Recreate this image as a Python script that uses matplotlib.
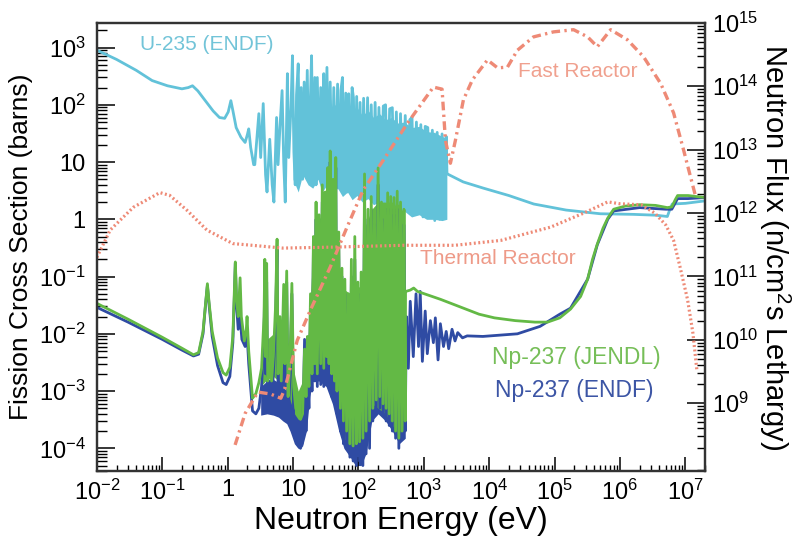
import matplotlib.pyplot as plt
import matplotlib.ticker as mticker
import numpy as np

plt.rcParams['font.family'] = ['Liberation Sans', 'DejaVu Sans']
plt.rcParams['mathtext.default'] = 'regular'

# ---- data: energy (eV), cross section (barns), flux (n/cm2 s lethargy) ----
# U-235 (ENDF) fission cross section
u235_low = [(0.01, 900), (0.02, 620), (0.04, 400), (0.07, 265), (0.12, 215), (0.2, 190),
            (0.25, 200), (0.29, 215), (0.35, 175), (0.45, 120), (0.6, 78), (0.75, 60),
            (0.9, 58), (1.02, 75), (1.12, 118), (1.2, 80), (1.35, 40), (1.6, 27),
            (1.85, 22), (2.0, 30), (2.1, 38), (2.25, 18), (2.5, 9)]
u235_res = [(2.6, 9), (3.0, 70), (3.2, 12), (3.5, 105), (3.8, 6), (4.0, 3.0), (4.4, 25),
            (4.8, 4), (5.1, 2.0), (5.6, 60), (5.9, 9), (6.3, 40), (6.8, 177), (7.2, 10),
            (7.6, 2.0), (8.2, 350), (8.6, 12), (9.3, 90), (9.8, 720), (10.3, 15), (10.8, 4),
            (11.3, 150), (12.0, 520), (12.6, 8), (13.3, 200), (14.0, 5), (14.8, 250),
            (15.6, 10), (16.5, 400), (17.5, 7), (18.5, 150), (19.2, 720), (20.2, 6),
            (21.5, 300), (22.5, 4), (23.5, 300), (25, 8), (26.5, 200), (28, 3.5), (29.5, 350),
            (31, 6), (33, 450), (35, 5), (37, 250), (39.5, 4), (42, 200), (45, 5), (48, 230),
            (51, 3.5), (54, 180), (57, 300), (60, 4), (64, 160), (68, 3), (71, 156), (75, 5),
            (80, 200), (84, 133), (88, 3), (94, 140), (100, 4), (106, 110), (113, 2.5),
            (120, 130), (128, 3), (138, 133), (147, 2.5), (157, 100), (168, 3), (180, 110),
            (193, 2.2), (206, 90), (220, 3), (240, 95), (260, 100), (280, 2), (300, 85),
            (330, 89), (355, 1.8), (380, 75), (410, 2.0), (440, 70), (480, 1.5), (520, 65),
            (560, 2.2), (610, 55), (660, 60), (710, 1.3), (770, 50), (830, 1.6), (900, 45),
            (970, 1.1), (1050, 42), (1150, 40), (1250, 1.2), (1350, 36), (1470, 0.95),
            (1600, 33), (1750, 1.0), (1900, 31), (2050, 1.2), (2200, 28), (2260, 6.2)]
u235_high = [(2290, 6.2), (4000, 4.5), (8150, 3.5), (2e4, 2.6), (4.8e4, 1.85), (1.5e5, 1.45),
             (5e5, 1.25), (1.6e6, 1.22), (3.5e6, 1.18), (5.3e6, 1.12), (5.8e6, 1.5),
             (6.3e6, 1.85), (1e7, 1.9), (2e7, 2.1)]
u235_band_E = [10, 12, 14, 17, 20, 24, 28, 33, 40, 48, 57, 68, 80, 95, 115, 140, 170, 210,
               260, 320, 400, 500, 650, 850, 1100, 1450, 1900, 2250]
u235_band_hi = [40, 90, 60, 110, 80, 130, 70, 120, 90, 110, 70, 100, 80, 90, 65, 80, 60, 70,
                55, 60, 48, 50, 40, 42, 34, 33, 28, 26]
u235_band_lo = [5, 3, 6, 4, 3.5, 5, 3, 4, 3, 3.5, 2.5, 3, 2.2, 2.6, 2, 2.3, 1.8, 2, 1.5, 1.6,
                1.3, 1.4, 1.1, 1.2, 1.0, 1.0, 0.95, 1.0]

# Np-237 (JENDL) fission cross section
jendl_low = [(0.01, 0.034), (0.03, 0.018), (0.1, 0.0087), (0.2, 0.0056), (0.3, 0.0043),
             (0.36, 0.0047), (0.42, 0.011), (0.46, 0.035), (0.49, 0.075), (0.52, 0.035),
             (0.58, 0.011), (0.7, 0.0038), (0.85, 0.0021), (0.95, 0.0019), (1.08, 0.0026),
             (1.2, 0.009), (1.27, 0.06), (1.31, 0.18), (1.37, 0.04), (1.45, 0.02),
             (1.55, 0.095), (1.62, 0.02), (1.8, 0.0075), (1.93, 0.012), (1.98, 0.02),
             (2.1, 0.005), (2.4, 0.00075), (2.7, 0.0009)]
jendl_res = [(2.7, 0.0009), (3.0, 0.0014), (3.3, 0.0025), (3.6, 0.02), (3.7, 0.2), (3.8, 0.004),
             (3.95, 0.17), (4.1, 0.0015), (4.4, 0.003), (4.7, 0.0015), (5.0, 0.004),
             (5.4, 0.03), (5.7, 0.45), (5.9, 0.002), (6.3, 0.02), (6.6, 0.0015), (7.2, 0.073),
             (7.5, 0.003), (8.0, 0.125), (8.4, 0.0008), (9.0, 0.004), (9.6, 0.076),
             (10.2, 0.0012), (11, 0.0005), (12, 0.0004), (13, 0.00032), (14, 0.0004),
             (15, 0.0054), (15.8, 0.0008), (16.6, 0.009), (17.5, 0.0012), (18.5, 0.05),
             (19.5, 0.002), (20.5, 0.5), (21.5, 0.003), (22.5, 2.0), (23.5, 0.002), (25, 1.2),
             (26.5, 0.003), (28, 4), (29.5, 0.0025), (31, 3), (32.5, 0.004), (34, 8),
             (35.5, 0.003), (37, 15.6), (39, 0.002), (41, 5), (43, 0.0015), (45, 12),
             (47, 0.001), (50, 0.6), (53, 0.0005), (56, 0.14), (59, 0.0003), (62, 0.09),
             (66, 0.0002), (70, 0.05), (74, 0.00012), (78, 0.2), (83, 0.00011), (88, 0.5),
             (93, 0.00012), (98, 0.08), (104, 0.00013), (110, 0.12), (117, 0.00015),
             (124, 6.2), (131, 0.0002), (140, 1.5), (148, 0.0003), (157, 2.5), (166, 0.0005),
             (176, 1.2), (187, 0.0007), (200, 7.9), (212, 0.0008), (225, 2), (238, 0.0006),
             (252, 1.5), (265, 0.0005), (280, 2.9), (296, 0.0004), (312, 2.5), (330, 0.0003),
             (350, 2.4), (370, 0.0002), (392, 3.1), (415, 0.00015), (440, 2.0), (465, 0.0002),
             (495, 1.5), (520, 0.0003), (525, 0.055)]
jendl_high = [(530, 0.055), (620, 0.058), (700, 0.063), (800, 0.055), (1200, 0.047),
              (1800, 0.040), (3000, 0.032), (7000, 0.022), (1.2e4, 0.019), (2.5e4, 0.017),
              (5e4, 0.016), (7.8e4, 0.016), (1.2e5, 0.019), (1.75e5, 0.027), (2.5e5, 0.045),
              (3.2e5, 0.09), (3.8e5, 0.2), (4.5e5, 0.37), (5.5e5, 0.7), (6.5e5, 1.05),
              (8e5, 1.5), (1.2e6, 1.7), (2e6, 1.8), (3.5e6, 1.75), (5.3e6, 1.6),
              (6.2e6, 1.65), (7e6, 2.2), (7.6e6, 2.6), (1.1e7, 2.6), (2e7, 2.4)]
jendl_band_E = [3.2, 4, 5, 6, 7, 8, 9, 10.5, 12, 14, 16, 18, 20, 25, 32, 40,
                50, 60, 75, 90, 110, 130, 160, 200, 260, 330, 420, 520]
jendl_band_lo = [1.2e-3, 1.6e-3, 1.8e-3, 1.5e-3, 1.2e-3, 1e-3, 7e-4, 4e-4, 3.2e-4, 3.5e-4,
                 8e-4, 2e-3, 3e-3, 3e-3, 2.5e-3, 1.3e-3, 4e-4, 1.5e-4, 1.1e-4, 1.2e-4,
                 1.8e-4, 5e-4, 6e-4, 5e-4, 4e-4, 2.5e-4, 1.8e-4, 3e-4]
jendl_band_hi = [5e-3, 8e-3, 0.01, 0.01, 0.009, 0.008, 0.005, 2e-3, 1e-3, 1.5e-3, 4e-3,
                 0.02, 0.3, 1.0, 1.5, 1.2, 0.1, 0.06, 0.05, 0.06, 0.07, 0.8, 1.5, 2.0,
                 2.0, 2.0, 1.8, 1.5]

# Np-237 (ENDF) fission cross section
endf_low = [(0.01, 0.029), (0.03, 0.016), (0.1, 0.008), (0.2, 0.0052), (0.3, 0.0041),
            (0.36, 0.0044), (0.42, 0.01), (0.46, 0.033), (0.49, 0.07), (0.52, 0.032),
            (0.58, 0.009), (0.7, 0.0028), (0.85, 0.0014), (0.95, 0.0013), (1.08, 0.0018),
            (1.2, 0.007), (1.27, 0.05), (1.31, 0.17), (1.37, 0.03), (1.45, 0.012),
            (1.55, 0.02), (1.65, 0.008), (1.85, 0.006), (1.98, 0.01), (2.1, 0.003),
            (2.4, 0.00045), (2.7, 0.0004)]
endf_res = [(2.7, 0.0004), (3.0, 0.0005), (3.3, 0.0012), (3.6, 0.01), (3.7, 0.1), (3.8, 0.002),
            (3.95, 0.08), (4.1, 0.0007), (4.4, 0.0015), (4.7, 0.0006), (5.0, 0.002),
            (5.4, 0.015), (5.7, 0.3), (5.9, 0.001), (6.3, 0.01), (6.6, 0.0005), (7.2, 0.04),
            (7.5, 0.0012), (8.0, 0.08), (8.4, 0.0003), (9.0, 0.002), (9.6, 0.05),
            (10.2, 0.0004), (11, 0.00015), (12, 0.00011), (13, 0.0001), (14, 0.00013),
            (15, 0.008), (15.8, 0.0002), (16.6, 0.005), (17.5, 0.0005), (18.5, 0.03),
            (19.5, 0.001), (20.5, 0.3), (21.5, 0.0015), (22.5, 1.0), (23.5, 0.0012),
            (25, 0.8), (26.5, 0.0013), (28, 2), (29.5, 0.0012), (31, 2), (32.5, 0.0015),
            (34, 5), (35.5, 0.0012), (37, 10), (39, 0.0008), (41, 3), (43, 0.0006), (45, 8),
            (47, 0.0004), (50, 0.3), (53, 0.0002), (56, 0.1), (59, 0.00012), (62, 0.05),
            (66, 0.0001), (70, 0.03), (74, 0.00007), (78, 0.1), (83, 0.00006), (88, 0.2),
            (93, 0.00005), (98, 0.05), (104, 0.00006), (110, 0.05), (117, 0.00005), (124, 3),
            (131, 0.00008), (140, 1), (148, 0.0001), (157, 1.5), (166, 0.0003), (176, 0.8),
            (187, 0.0004), (200, 4), (212, 0.0005), (225, 1), (238, 0.0004), (252, 1),
            (265, 0.0003), (280, 1.5), (296, 0.00025), (312, 1.5), (330, 0.0002), (350, 1.2),
            (370, 0.00015), (392, 1.5), (415, 0.0001), (440, 1), (465, 0.00015), (495, 0.8),
            (520, 0.0002), (540, 0.02)]
endf_high = [(540, 0.02), (580, 0.0025), (620, 0.037), (690, 0.004), (760, 0.05), (830, 0.006),
             (880, 0.055), (950, 0.0033), (1050, 0.025), (1130, 0.0045), (1260, 0.017),
             (1400, 0.007), (1500, 0.019), (1650, 0.0035), (1790, 0.015), (2000, 0.006),
             (2200, 0.011), (2400, 0.0055), (2700, 0.012), (3000, 0.0075), (3300, 0.0105),
             (3900, 0.0085), (4600, 0.0092), (8000, 0.009), (2.7e4, 0.010), (6e4, 0.0135),
             (1.2e5, 0.022), (1.75e5, 0.028), (3.2e5, 0.09), (4.5e5, 0.36), (6.5e5, 1.0),
             (8e5, 1.4), (2e6, 1.6), (5e6, 1.5), (6.2e6, 1.5), (7.6e6, 2.3), (1.1e7, 2.3),
             (2e7, 2.4)]
endf_band_E = [3.2, 4, 5, 6, 7, 8, 9, 10.5, 12, 14, 16, 18, 20, 25, 32, 40,
               50, 60, 75, 90, 110, 130, 160, 200, 260, 330, 420, 520]
endf_band_lo = [3.8e-4, 4e-4, 3.8e-4, 3.5e-4, 3e-4, 2.7e-4, 2e-4, 1.2e-4, 1e-4, 1.1e-4, 2e-4,
                8e-4, 1.5e-3, 1.5e-3, 1.2e-3, 6e-4, 2e-4, 1e-4, 7e-5, 5e-5, 5e-5, 8e-5, 3e-4,
                4e-4, 3e-4, 2e-4, 1.2e-4, 1.5e-4]
endf_band_hi = [1.2e-3, 1.5e-3, 1.6e-3, 1.4e-3, 1.2e-3, 1e-3, 8e-4, 5e-4, 4e-4, 4e-4, 1e-3,
                3e-3, 5e-3, 5e-3, 4e-3, 2e-3, 1e-3, 5e-4, 3e-4, 3e-4, 4e-4, 1e-3, 2e-3, 2e-3,
                1e-3, 1e-3, 1e-3, 1e-3]

# reactor neutron spectra (right axis)
fast_E = [1.3, 1.85, 2.9, 4.5, 6.5, 7.5, 11.6, 18.3, 37, 67, 118, 240, 560, 1400, 1900,
          2140, 2550, 3040, 4030, 5530, 9400, 1.34e4, 1.9e4, 2.7e4, 4.75e4, 9.6e4, 1.95e5,
          3.2e5, 4.5e5, 7.2e5, 1.3e6, 2.3e6, 4.2e6, 6.6e6, 9.4e6, 1.2e7, 1.44e7]
fast_flux = [2.2e8, 6.9e8, 1.5e9, 1.4e9, 1.2e9, 1.7e9, 9.8e9, 2.9e10, 1.4e11, 6e11, 2.3e12,
             6.8e12, 2.6e13, 9.7e13, 9e13, 1.4e13, 6.1e12, 1.4e13, 6.1e13, 1.26e14, 2.6e14,
             1.95e14, 2e14, 3.7e14, 6e14, 7.2e14, 7.8e14, 6e14, 4.2e14, 7.8e14, 5.4e14,
             2.9e14, 1.1e14, 3.8e13, 9.8e12, 3.7e12, 1.8e12]
thermal_E = [0.01, 0.016, 0.036, 0.092, 0.13, 0.24, 0.48, 1.2, 7, 41, 500, 3000, 1.5e4,
             8.7e4, 2.8e5, 6.5e5, 1.0e6, 2.1e6, 3.4e6, 5e6, 6.6e6, 8.3e6, 1.08e7, 1.3e7, 1.5e7]
thermal_flux = [2e11, 5.4e11, 1.23e12, 2.1e12, 1.9e12, 1.1e12, 5.4e11, 3.3e11, 2.8e11,
                2.9e11, 3.1e11, 3.1e11, 3.7e11, 6e11, 1e12, 1.5e12, 1.4e12, 1.35e12, 1e12,
                6.5e11, 3.7e11, 1.4e11, 4.3e10, 1.3e10, 3.3e9]

x_ticks = [1e-2, 1e-1, 1, 10, 1e2, 1e3, 1e4, 1e5, 1e6, 1e7]
x_labels = ['$10^{-2}$', '$10^{-1}$', '1', '10', '$10^{2}$', '$10^{3}$', '$10^{4}$',
            '$10^{5}$', '$10^{6}$', '$10^{7}$']
y_ticks = [1e-4, 1e-3, 1e-2, 1e-1, 1, 10, 1e2, 1e3]
y_labels = ['$10^{-4}$', '$10^{-3}$', '$10^{-2}$', '$10^{-1}$', '1', '10', '$10^{2}$', '$10^{3}$']
flux_ticks = [1e9, 1e10, 1e11, 1e12, 1e13, 1e14, 1e15]
flux_labels = ['$10^{9}$', '$10^{10}$', '$10^{11}$', '$10^{12}$', '$10^{13}$', '$10^{14}$',
               '$10^{15}$']

CYAN = '#62C2D9'
GREEN = '#63B945'
NAVY = '#2F4BA3'
SALMON = '#EE8A76'


def unpack(*parts):
    xs, ys = [], []
    for part in parts:
        for e, v in part:
            xs.append(e)
            ys.append(v)
    return xs, ys


def style_log_axis(axis, ticks, labels):
    axis.set_major_locator(mticker.FixedLocator(ticks))
    axis.set_major_formatter(mticker.FixedFormatter(labels))
    axis.set_minor_locator(mticker.LogLocator(base=10, subs=np.arange(2, 10), numticks=30))
    axis.set_minor_formatter(mticker.NullFormatter())


fig = plt.figure(figsize=(7.94, 5.44), dpi=100)
ax = fig.add_axes([0.122, 0.134, 0.766, 0.824])
ax2 = ax.twinx()

# U-235
ax.fill_between(u235_band_E, u235_band_lo, u235_band_hi, color=CYAN, lw=0)
x, y = unpack(u235_low, u235_res, u235_high)
ax.plot(x, y, color=CYAN, lw=2.0)

# Np-237 ENDF under JENDL
ax.fill_between(endf_band_E, endf_band_lo, endf_band_hi, color=NAVY, lw=0)
x, y = unpack(endf_low, endf_res, endf_high)
ax.plot(x, y, color=NAVY, lw=2.0)

ax.fill_between(jendl_band_E, jendl_band_lo, jendl_band_hi, color=GREEN, lw=0)
x, y = unpack(jendl_low, jendl_res, jendl_high)
ax.plot(x, y, color=GREEN, lw=2.0)

# reactor spectra
ax2.plot(fast_E, fast_flux, color=SALMON, lw=2.4, ls=(0, (2.6, 1.3, 0.7, 1.3)))
ax2.plot(thermal_E, thermal_flux, color=SALMON, lw=2.3, ls=(0, (0.6, 0.8)))

ax.set_xscale('log')
ax.set_yscale('log')
ax2.set_yscale('log')
ax.set_xlim(1e-2, 2e7)
ax.set_ylim(4e-5, 2.7e3)
ax2.set_ylim(8.5e7, 1e15)

style_log_axis(ax.xaxis, x_ticks, x_labels)
style_log_axis(ax.yaxis, y_ticks, y_labels)
style_log_axis(ax2.yaxis, flux_ticks, flux_labels)

ax.tick_params(axis='x', which='major', direction='in', length=10, width=1.1, pad=6,
               labelsize=17, top=False)
ax.tick_params(axis='x', which='minor', direction='in', length=4.5, width=1.0, top=False)
ax.tick_params(axis='y', which='major', direction='in', length=13, width=1.1, pad=8,
               labelsize=17, right=False)
ax.tick_params(axis='y', which='minor', direction='in', length=7, width=1.0, right=False)
ax2.tick_params(axis='y', which='major', direction='in', length=13, width=1.1, pad=5,
                labelsize=17)
ax2.tick_params(axis='y', which='minor', direction='in', length=6, width=1.0)

for a in (ax, ax2):
    for s in a.spines.values():
        s.set_linewidth(1.6)
        s.set_color('#333333')

ax.set_xlabel('Neutron Energy (eV)', fontsize=23, labelpad=1)
ax.set_ylabel('Fission Cross Section (barns)', fontsize=19, labelpad=4)
ax2.set_ylabel('Neutron Flux (n/cm$^2$s Lethargy)', fontsize=21, rotation=270, labelpad=24)

ax.text(0.071, 0.951, 'U-235 (ENDF)', transform=ax.transAxes, color='#72C4D8',
        fontsize=15, va='center')
ax.text(0.692, 0.891, 'Fast Reactor', transform=ax.transAxes, color='#F0A08E',
        fontsize=15, va='center')
ax.text(0.531, 0.475, 'Thermal Reactor', transform=ax.transAxes, color='#EE9A88',
        fontsize=15, va='center')
ax.text(0.650, 0.254, 'Np-237 (JENDL)', transform=ax.transAxes, color='#76BE58',
        fontsize=16.5, va='center')
ax.text(0.654, 0.180, 'Np-237 (ENDF)', transform=ax.transAxes, color='#3C55A5',
        fontsize=16.5, va='center')

fig.savefig('out.png', dpi=100)
